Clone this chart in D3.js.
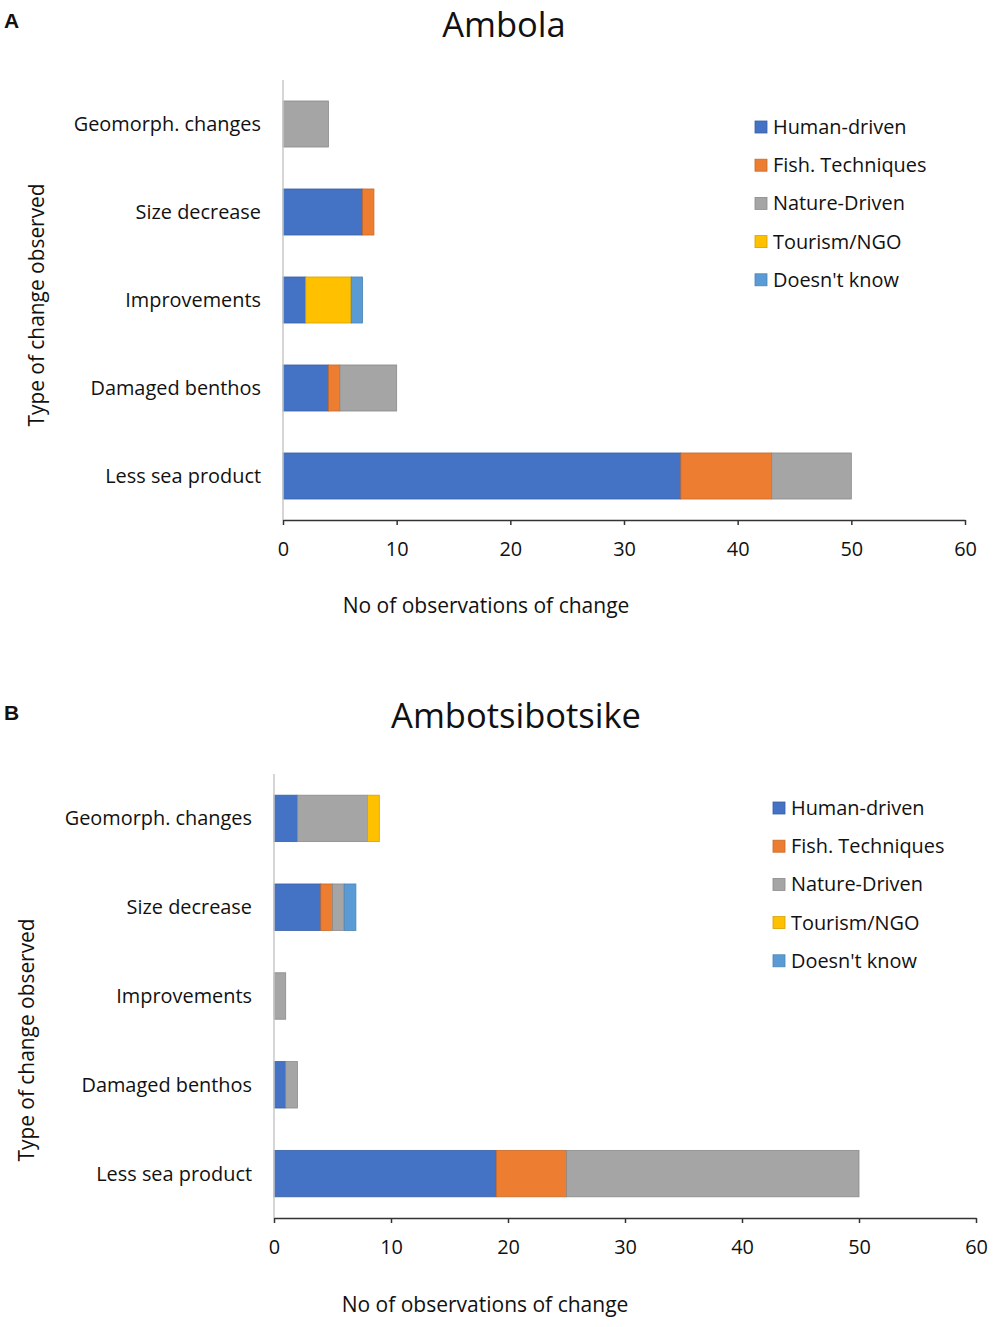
<!DOCTYPE html>
<html>
<head>
<meta charset="utf-8">
<script src="https://cdn.jsdelivr.net/npm/d3@7"></script>
<style>
	body{margin:0;background:#fff;}
	svg text{font-family:"Open Sans","Noto Sans",sans-serif;fill:#111;}
</style>
</head>
<body>
<svg id="chart" width="1000" height="1327"></svg>
<script>
(function(){

	// categories and series (same for both panels)
	var categories = ["Geomorph. changes", "Size decrease", "Improvements", "Damaged benthos", "Less sea product"];
	var seriesNames = ["Human-driven", "Fish. Techniques", "Nature-Driven", "Tourism/NGO", "Doesn't know"];
	var seriesColors = ["#4472C4", "#ED7D31", "#A5A5A5", "#FFC000", "#5B9BD5"];
	var xTicks = [0, 10, 20, 30, 40, 50, 60];

	// A - Ambola (values per category, in the order above)
	var ambolaHuman   = [0, 7, 2, 4, 35];
	var ambolaFish    = [0, 1, 0, 1, 8];
	var ambolaNature  = [4, 0, 0, 5, 7];
	var ambolaTourism = [0, 0, 4, 0, 0];
	var ambolaDk      = [0, 0, 1, 0, 0];

	// B - Ambotsibotsike
	var ambotHuman   = [2, 4, 0, 1, 19];
	var ambotFish    = [0, 1, 0, 0, 6];
	var ambotNature  = [6, 1, 1, 1, 25];
	var ambotTourism = [1, 0, 0, 0, 0];
	var ambotDk      = [0, 1, 0, 0, 0];

	var svg = d3.select("#chart");

	var panels = [
		{letter:"A", title:"Ambola", letterY:28, titleX:504, titleY:37,
		 x0:283, x1:965, yTop:80, yBot:520, xTitleX:486, xTitleY:613, yTitleX:44, yTitleY:305,
		 legX:755, legY:127, series:[ambolaHuman, ambolaFish, ambolaNature, ambolaTourism, ambolaDk]},
		{letter:"B", title:"Ambotsibotsike", letterY:720, titleX:516, titleY:728,
		 x0:274, x1:976, yTop:774, yBot:1218, xTitleX:485, xTitleY:1312, yTitleX:34, yTitleY:1040,
		 legX:773, legY:808, series:[ambotHuman, ambotFish, ambotNature, ambotTourism, ambotDk]}
	];

	panels.forEach(function(p){
		var g = svg.append("g");

		g.append("text").attr("x", 4).attr("y", p.letterY)
			.style("font-family", "'Liberation Sans',Arial,sans-serif")
			.style("font-weight", "bold").style("font-size", "21px")
			.text(p.letter);

		g.append("text").attr("x", p.titleX).attr("y", p.titleY)
			.attr("text-anchor", "middle").style("font-size", "34.5px")
			.text(p.title);

		var x = d3.scaleLinear().domain([0, 60]).range([p.x0, p.x1]);
		var y = d3.scaleBand().domain(categories).range([p.yTop, p.yBot])
			.paddingInner(0.477).paddingOuter(0.2385);

		// stack the series
		var rows = categories.map(function(c, i){
			var r = {cat:c};
			seriesNames.forEach(function(s, j){ r[s] = p.series[j][i]; });
			return r;
		});
		var stacked = d3.stack().keys(seriesNames)(rows);

		var layer = g.selectAll("g.layer").data(stacked).enter().append("g")
			.attr("class", "layer")
			.attr("fill", function(d, i){ return seriesColors[i]; })
			.attr("stroke", function(d, i){ return d3.color(seriesColors[i]).darker(0.5); })
			.attr("stroke-width", 0.8);

		layer.selectAll("rect").data(function(d){ return d.filter(function(e){ return e[1] > e[0]; }); })
			.enter().append("rect")
			.attr("x", function(d){ return x(d[0]); })
			.attr("width", function(d){ return x(d[1]) - x(d[0]); })
			.attr("y", function(d){ return y(d.data.cat); })
			.attr("height", y.bandwidth());

		// y axis line (light) + category labels
		g.append("line").attr("x1", p.x0).attr("x2", p.x0).attr("y1", p.yTop).attr("y2", p.yBot)
			.attr("stroke", "#c8c8c8").attr("stroke-width", 1.5);
		g.selectAll("text.cat").data(categories).enter().append("text")
			.attr("class", "cat")
			.attr("x", p.x0 - 22)
			.attr("y", function(d){ return y(d) + y.bandwidth()/2; })
			.attr("dy", "0.35em")
			.attr("text-anchor", "end").style("font-size", "19.9px")
			.text(function(d){ return d; });

		// x axis
		var ax = g.append("g").attr("transform", "translate(0," + p.yBot + ")")
			.call(d3.axisBottom(x).tickValues(xTicks).tickSize(5).tickPadding(17).tickSizeOuter(0));
		ax.select(".domain").attr("stroke", "#333").attr("stroke-width", 1.5);
		ax.selectAll(".tick line").attr("stroke", "#333").attr("stroke-width", 1.5);
		ax.selectAll(".tick text").style("font-size", "19.9px").style("font-family", "'Open Sans','Noto Sans',sans-serif").attr("fill", "#111");

		g.append("text").attr("x", p.xTitleX).attr("y", p.xTitleY)
			.attr("text-anchor", "middle").style("font-size", "21px")
			.text("No of observations of change");

		g.append("text")
			.attr("transform", "translate(" + p.yTitleX + "," + p.yTitleY + ") rotate(-90)")
			.attr("text-anchor", "middle").style("font-size", "20.9px")
			.text("Type of change observed");

		// legend
		var leg = g.selectAll("g.leg").data(seriesNames).enter().append("g")
			.attr("class", "leg")
			.attr("transform", function(d, i){ return "translate(" + p.legX + "," + (p.legY + i*38.2) + ")"; });
		leg.append("rect").attr("x", 0).attr("y", -6).attr("width", 12).attr("height", 12)
			.attr("fill", function(d, i){ return seriesColors[i]; })
			.attr("stroke", function(d, i){ return d3.color(seriesColors[i]).darker(0.5); })
			.attr("stroke-width", 0.8);
		leg.append("text").attr("x", 18).attr("y", 0).attr("dy", "0.35em")
			.style("font-size", "19.9px").text(function(d){ return d; });
	});

})();
</script>
</body>
</html>
